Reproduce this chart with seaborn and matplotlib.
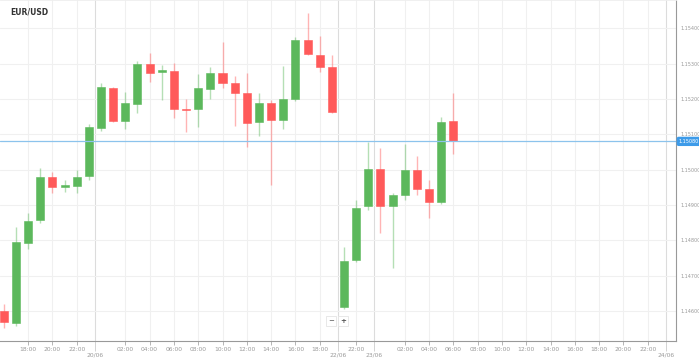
"""
EUR/USD hourly candlestick chart (trading platform style).
"""

import numpy as np
import pandas as pd
import matplotlib
matplotlib.use('Agg')
import matplotlib.pyplot as plt
import matplotlib.transforms as mtransforms
import seaborn as sns

# Candle slots (hours, 0 = 20/06 00:00)
slots = list(range(-8, 30))

opens = [1.14600, 1.14567, 1.14793, 1.14858, 1.14979, 1.14950, 1.14953, 1.14982,
         1.15117, 1.15230, 1.15137, 1.15186, 1.15300, 1.15276, 1.15279, 1.15173,
         1.15171, 1.15229, 1.15273, 1.15246, 1.15216, 1.15135, 1.15188, 1.15140,
         1.15201, 1.15367, 1.15324, 1.15291, 1.14611, 1.14744, 1.14897, 1.15002,
         1.14897, 1.14928, 1.14999, 1.14944, 1.14908, 1.15138]
highs = [1.14620, 1.14838, 1.14877, 1.15005, 1.14993, 1.14970, 1.14998, 1.15130,
         1.15245, 1.15235, 1.15220, 1.15307, 1.15329, 1.15296, 1.15301, 1.15199,
         1.15271, 1.15291, 1.15361, 1.15265, 1.15273, 1.15218, 1.15197, 1.15293,
         1.15375, 1.15444, 1.15378, 1.15324, 1.14781, 1.14914, 1.15078, 1.15061,
         1.14933, 1.15073, 1.15039, 1.14970, 1.15150, 1.15216]
lows = [1.14552, 1.14558, 1.14775, 1.14849, 1.14933, 1.14938, 1.14933, 1.14970,
        1.15109, 1.15136, 1.15116, 1.15160, 1.15249, 1.15197, 1.15145, 1.15107,
        1.15120, 1.15199, 1.15232, 1.15123, 1.15065, 1.15095, 1.14957, 1.15116,
        1.15195, 1.15324, 1.15277, 1.15161, 1.14606, 1.14739, 1.14886, 1.14821,
        1.14721, 1.14914, 1.14928, 1.14863, 1.14903, 1.15044]
closes = [1.14569, 1.14794, 1.14855, 1.14979, 1.14950, 1.14958, 1.14979, 1.15120,
          1.15233, 1.15138, 1.15188, 1.15299, 1.15274, 1.15281, 1.15172, 1.15168,
          1.15230, 1.15273, 1.15244, 1.15216, 1.15133, 1.15190, 1.15141, 1.15201,
          1.15367, 1.15327, 1.15291, 1.15163, 1.14741, 1.14892, 1.15002, 1.14897,
          1.14928, 1.14999, 1.14944, 1.14908, 1.15135, 1.15081]

last_price = 1.15080

# Axis labels
time_ticks = [-6, -4, -2, 2, 4, 6, 8, 10, 12, 14, 16, 18,
              21, 25, 27, 29, 31, 33, 35, 37, 39, 41, 43, 45]
time_labels = ['18:00', '20:00', '22:00', '02:00', '04:00', '06:00', '08:00',
               '10:00', '12:00', '14:00', '16:00', '18:00', '22:00', '02:00',
               '04:00', '06:00', '08:00', '10:00', '12:00', '14:00', '16:00',
               '18:00', '20:00', '22:00']
date_ticks = [-0.5, 19.5, 22.5, 46.5]
date_labels = ['20/06', '22/06', '23/06', '24/06']
price_ticks = [1.146, 1.147, 1.148, 1.149, 1.150, 1.151, 1.152, 1.153, 1.154]

UP = '#5cb85c'
DOWN = '#ff5a5a'

df = pd.DataFrame({'slot': slots, 'open': opens, 'high': highs,
                   'low': lows, 'close': closes})
df['up'] = df['close'] >= df['open']
df['bottom'] = df[['open', 'close']].min(axis=1)
df['height'] = (df['close'] - df['open']).abs().clip(lower=0.000015)
df['color'] = np.where(df['up'], UP, DOWN)

sns.set_theme(style='white')
plt.rcParams['font.family'] = ['DejaVu Sans']

fig = plt.figure(figsize=(6.99, 3.59), dpi=100)
ax = fig.add_axes([0.0, 18 / 359, 676 / 699, 341 / 359])

# grid
for t in time_ticks:
    ax.axvline(t, color='#f0f0f0', linewidth=0.8, zorder=0)
for t in date_ticks:
    ax.axvline(t, color='#dcdcdc', linewidth=0.8, zorder=0)
for p in price_ticks:
    ax.axhline(p, color='#f0f0f0', linewidth=0.8, zorder=0)

# wicks
ax.vlines(df['slot'], df['low'], df['high'], colors=df['color'],
          linewidth=1.0, alpha=0.45, zorder=2)
# bodies
ax.bar(df['slot'], df['height'], bottom=df['bottom'], width=0.66,
       color=df['color'], edgecolor=df['color'], linewidth=0.4, zorder=3)

# last price line + label
ax.axhline(last_price, color='#8cc3ec', linewidth=0.9, zorder=4)
trans = mtransforms.blended_transform_factory(ax.transAxes, ax.transData)
ax.text(1.004, last_price, f'{last_price:.5f}', transform=trans, fontsize=3.5,
        color='white', va='center', ha='left', zorder=6, clip_on=False,
        bbox=dict(boxstyle='round,pad=0.3,rounding_size=0.3', fc='#3d9be9',
                  ec='#3d9be9'))

ax.set_xlim(-101 / 12.15, 575 / 12.15)
ax.set_ylim(1.154 - 312.7 / 35340, 1.154 + 28.3 / 35340)

ax.yaxis.tick_right()
ax.set_yticks(price_ticks)
ax.set_yticklabels([f'{p:.5f}' for p in price_ticks])
ax.set_xticks(time_ticks)
ax.set_xticklabels(time_labels)
ax.set_xticks(date_ticks, labels=date_labels, minor=True)

ax.tick_params(axis='y', which='major', length=2, width=0.6, color='#aaaaaa',
               labelsize=3.5, labelcolor='#999999', pad=1.0, right=True)
ax.tick_params(axis='x', which='major', length=3, width=0.6, color='#aaaaaa',
               labelsize=4.3, labelcolor='#999999', pad=1.5, bottom=True)
ax.tick_params(axis='x', which='minor', length=7, width=0.6, color='#cccccc',
               labelsize=4.3, labelcolor='#999999', pad=1.5, bottom=True)

sns.despine(ax=ax, left=True, top=False, right=False, bottom=False)
ax.spines['top'].set_color('#eeeeee')
ax.spines['right'].set_color('#999999')
ax.spines['bottom'].set_color('#999999')
for s in ['right', 'bottom']:
    ax.spines[s].set_linewidth(0.8)
ax.spines['top'].set_linewidth(0.6)

ax.set_xlabel('')
ax.set_ylabel('')

fig.text(10 / 699, 1 - 12 / 359, 'EUR/USD', fontsize=5.5, fontweight='bold',
         color='#333333', ha='left', va='center')

# zoom buttons
btn = dict(boxstyle='square,pad=0.3', fc='white', ec='#e4e4e4', lw=0.6)
fig.text(331 / 699, 1 - 321 / 359, '\u2212', fontsize=5, color='#555555',
         ha='center', va='center', bbox=btn)
fig.text(343 / 699, 1 - 321 / 359, '+', fontsize=5, color='#555555',
         ha='center', va='center', bbox=btn, fontweight='bold')

fig.savefig('out.png', dpi=100)
